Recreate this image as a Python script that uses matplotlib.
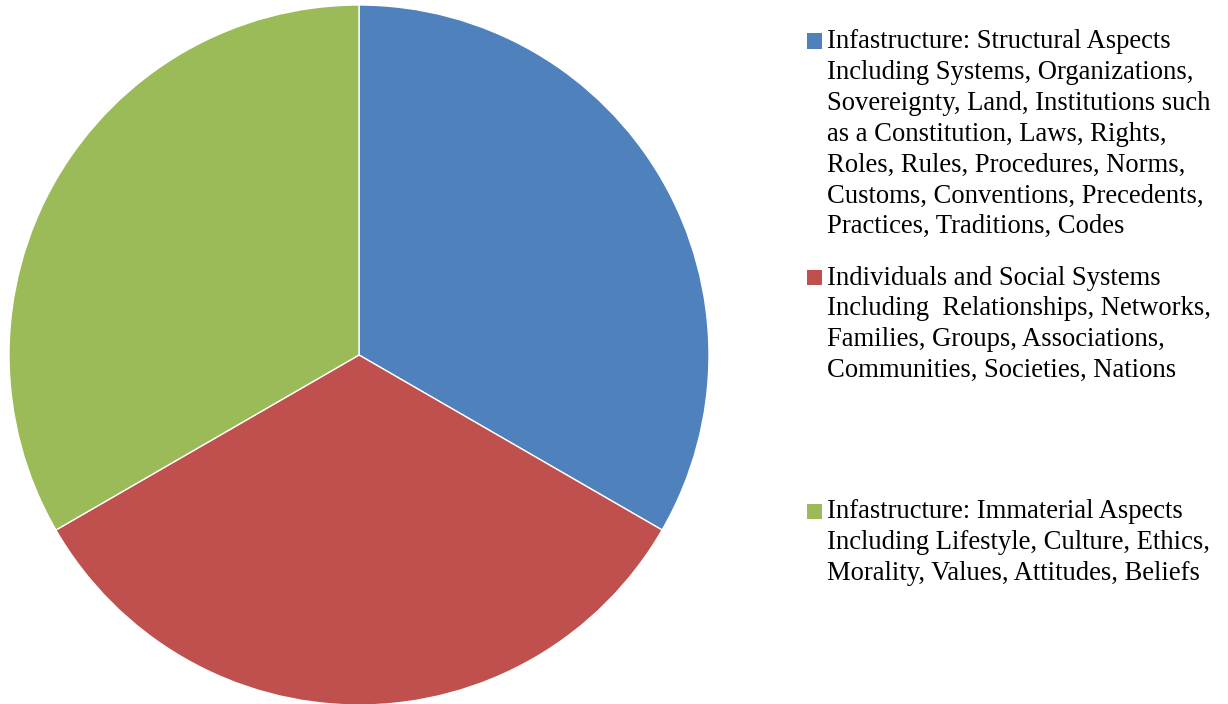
import matplotlib.pyplot as plt
from matplotlib.patches import Rectangle

# slice shares (three equal parts)
categories = [
    "Infastructure: Structural Aspects",
    "Individuals and Social Systems",
    "Infastructure: Immaterial Aspects",
]
values = [1, 1, 1]
colors = ["#4F81BD", "#C0504D", "#9BBB59"]

legend_lines = [
    [
        "Infastructure: Structural Aspects",
        "Including Systems, Organizations,",
        "Sovereignty, Land, Institutions such",
        "as a Constitution, Laws, Rights,",
        "Roles, Rules, Procedures, Norms,",
        "Customs, Conventions, Precedents,",
        "Practices, Traditions, Codes",
    ],
    [
        "Individuals and Social Systems",
        "Including  Relationships, Networks,",
        "Families, Groups, Associations,",
        "Communities, Societies, Nations",
    ],
    [
        "Infastructure: Immaterial Aspects",
        "Including Lifestyle, Culture, Ethics,",
        "Morality, Values, Attitudes, Beliefs",
    ],
]

W, H = 1228, 704
fig = plt.figure(figsize=(W / 100, H / 100), dpi=100)

# pie axes, centre (359, 355) px, radius 350 px
cx, cy, r = 359, 355, 350
ax = fig.add_axes([(cx - r) / W, (H - cy - r) / H, 2 * r / W, 2 * r / H])
ax.pie(
    values,
    colors=colors,
    startangle=90,
    counterclock=False,
    radius=1.0,
    wedgeprops=dict(edgecolor="white", linewidth=1),
)
ax.set_xlim(-1, 1)
ax.set_ylim(-1, 1)
ax.set_aspect("equal")
ax.axis("off")

# legend drawn by hand to match the uneven spacing
first_baselines = [48.5, 284.5, 518.5]
line_step = 30.8
text_x = 827
for lines, base, col in zip(legend_lines, first_baselines, colors):
    fig.patches.append(
        Rectangle((807 / W, (H - base) / H), 15 / W, 15 / H,
                  transform=fig.transFigure, facecolor=col, edgecolor="none")
    )
    for i, line in enumerate(lines):
        y = base + i * line_step
        fig.text(text_x / W, (H - y) / H, line, family="Liberation Serif",
                 fontsize=19.2, va="baseline", ha="left", color="black")

fig.savefig("out.png", dpi=100)
